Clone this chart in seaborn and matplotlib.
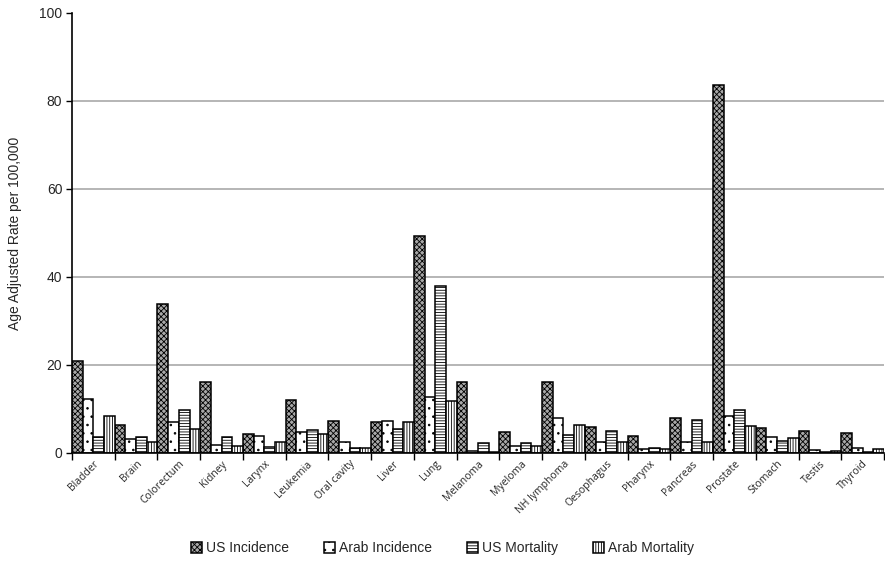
import matplotlib
matplotlib.use("Agg")
import matplotlib.pyplot as plt
import seaborn as sns
import pandas as pd

cancers = ["Bladder", "Brain", "Colorectum", "Kidney", "Larynx", "Leukemia", "Oral cavity",
           "Liver", "Lung", "Melanoma", "Myeloma", "NH lymphoma", "Oesophagus", "Pharynx",
           "Pancreas", "Prostate", "Stomach", "Testis", "Thyroid"]
series = ["US Incidence", "Arab Incidence", "US Mortality", "Arab Mortality"]
us_incidence = [21.0, 6.4, 33.9, 16.1, 4.4, 12.1, 7.2, 7.0, 49.4, 16.2, 4.8, 16.2, 5.8, 3.9, 8.0, 83.7, 5.65, 5.05, 4.6]
arab_incidence = [12.3, 3.2, 7.0, 1.8, 3.9, 4.8, 2.5, 7.3, 12.8, 0.45, 1.65, 8.0, 2.6, 0.9, 2.6, 8.3, 3.7, 0.75, 1.1]
us_mortality = [3.6, 3.6, 9.8, 3.6, 1.4, 5.3, 1.1, 5.5, 38.0, 2.3, 2.3, 4.15, 5.05, 1.2, 7.4, 9.8, 2.8, 0.3, 0.3]
arab_mortality = [8.4, 2.5, 5.4, 1.65, 2.4, 4.4, 1.1, 7.0, 11.9, 0.2, 1.65, 6.4, 2.6, 0.9, 2.6, 6.2, 3.5, 0.5, 0.95]
y_ticks = [0, 20, 40, 60, 80, 100]

rows = []
for s, vals in zip(series, [us_incidence, arab_incidence, us_mortality, arab_mortality]):
    for c, v in zip(cancers, vals):
        rows.append({"cancer": c, "series": s, "rate": v})
df = pd.DataFrame(rows)

sns.set_style("white")
plt.rcParams["font.family"] = ["Liberation Sans", "DejaVu Sans"]
plt.rcParams["hatch.linewidth"] = 0.6

fig = plt.figure(figsize=(8.85, 5.61), dpi=100)
ax = fig.add_axes([72 / 885, 108 / 561, 812 / 885, 440 / 561])

faces = ["#a8a8a8", "white", "white", "white"]
hatches = ["xxxxxx", "..", "------", "||||||"]
sns.barplot(data=df, x="cancer", y="rate", hue="series", hue_order=series, order=cancers,
            width=1.0, errorbar=None, palette=faces, edgecolor="black", linewidth=1.1,
            ax=ax, legend=False, saturation=1)

for cont, h, fc in zip(ax.containers, hatches, faces):
    for p in cont.patches:
        p.set_hatch(h)
        p.set_facecolor(fc)
        p.set_edgecolor("black")

ax.set_ylim(0, 100)
ax.set_xlim(-0.5, len(cancers) - 0.5)
ax.set_yticks(y_ticks)
ax.set_yticklabels([str(t) for t in y_ticks], fontsize=10)
for t in y_ticks[1:-1]:
    ax.axhline(t, color="#b0b0b0", linewidth=1.3, zorder=0)

ax.set_xticks([i - 0.5 for i in range(len(cancers) + 1)])
ax.set_xticklabels([])
ax.set_xticks(range(len(cancers)), minor=True)
ax.set_xticklabels(cancers, minor=True, rotation=45, ha="right", rotation_mode="anchor",
                   fontsize=7.5, family=["Open Sans", "DejaVu Sans"])
ax.tick_params(axis="x", which="major", direction="out", length=5, width=1, color="black", bottom=True)
ax.tick_params(axis="x", which="minor", length=0, pad=4)
ax.tick_params(axis="y", direction="out", length=4, width=1, color="black", left=True, pad=3)

ax.set_xlabel("")
ax.set_ylabel("Age Adjusted Rate per 100,000", fontsize=10, labelpad=12)
for side in ["top", "right"]:
    ax.spines[side].set_visible(False)
for side in ["left", "bottom"]:
    ax.spines[side].set_color("black")
    ax.spines[side].set_linewidth(1.2)

handles = [c.patches[0] for c in ax.containers]
fig.legend(handles, series, loc="center", bbox_to_anchor=(0.5, 0.023), ncol=4,
           frameon=False, fontsize=10, handlelength=0.8, handleheight=0.8,
           handletextpad=0.3, columnspacing=2.5)

fig.savefig("out.png", dpi=100)
